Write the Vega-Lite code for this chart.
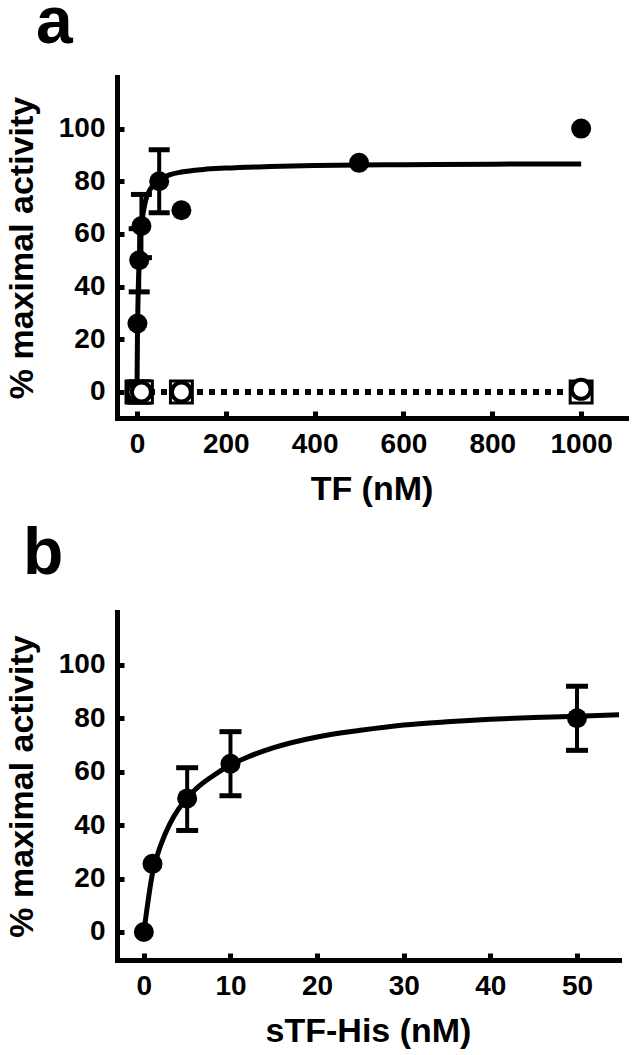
{
  "$schema": "https://vega.github.io/schema/vega-lite/v6.json",
  "background": "white",
  "padding": {"left": 5, "top": -10, "right": 5, "bottom": 5},
  "bounds": "flush",
  "spacing": 194,
  "config": {
    "view": {"stroke": null},
    "font": "Liberation Sans",
    "axis": {
      "grid": false, "domainColor": "black", "domainWidth": 5, "domainCap": "square",
      "tickColor": "black", "tickWidth": 5, "tickSize": -7,
      "labelFont": "Liberation Sans", "labelFontSize": 28, "labelFontWeight": "bold", "labelColor": "black",
      "labelPadding": 19, "labelFlush": false, "labelOverlap": false, "format": "d",
      "titleFont": "Liberation Sans", "titleFontSize": 34, "titleFontWeight": "bold", "titleColor": "black"
    },
    "title": {"fontSize": 66, "fontWeight": "bold", "anchor": "start", "color": "black", "font": "Liberation Sans"}
  },
  "datasets": {
    "curveA": [
      {"x": 0, "y": 0}, {"x": 1, "y": 20}, {"x": 2, "y": 32}, {"x": 3, "y": 40}, {"x": 5, "y": 50},
      {"x": 7, "y": 56}, {"x": 10, "y": 63}, {"x": 15, "y": 69}, {"x": 20, "y": 73}, {"x": 30, "y": 77},
      {"x": 50, "y": 80.5}, {"x": 75, "y": 82.5}, {"x": 100, "y": 83.5}, {"x": 150, "y": 84.5},
      {"x": 200, "y": 85}, {"x": 300, "y": 85.6}, {"x": 400, "y": 86}, {"x": 600, "y": 86.3},
      {"x": 800, "y": 86.5}, {"x": 1000, "y": 86.6}
    ],
    "filledA": [
      {"x": 0, "y": 0}, {"x": 1, "y": 26}, {"x": 5, "y": 50}, {"x": 10, "y": 63}, {"x": 50, "y": 80},
      {"x": 100, "y": 69}, {"x": 500, "y": 87}, {"x": 1000, "y": 100}
    ],
    "errA": [
      {"x": 5, "lo": 38, "hi": 62}, {"x": 10, "lo": 51, "hi": 75}, {"x": 50, "lo": 68, "hi": 92}
    ],
    "squaresA": [
      {"x": 0, "y": 0}, {"x": 5, "y": 0}, {"x": 10, "y": 0}, {"x": 100, "y": 0}, {"x": 1000, "y": 0}
    ],
    "openA": [
      {"x": 0, "y": 0}, {"x": 10, "y": 0}, {"x": 100, "y": 0}, {"x": 1000, "y": 1}
    ],
    "curveB": [
      {"x": 0, "y": 0}, {"x": 1, "y": 22}, {"x": 2, "y": 33}, {"x": 3, "y": 40.5}, {"x": 4, "y": 46},
      {"x": 5, "y": 50}, {"x": 6, "y": 53.5}, {"x": 8, "y": 58.5}, {"x": 10, "y": 62.5}, {"x": 12, "y": 65.5},
      {"x": 15, "y": 69}, {"x": 20, "y": 73}, {"x": 25, "y": 75.5}, {"x": 30, "y": 77.5}, {"x": 35, "y": 78.7},
      {"x": 40, "y": 79.6}, {"x": 45, "y": 80.3}, {"x": 50, "y": 80.8}, {"x": 55, "y": 81.3}
    ],
    "filledB": [
      {"x": 0, "y": 0}, {"x": 1, "y": 25.5}, {"x": 5, "y": 50}, {"x": 10, "y": 63}, {"x": 50, "y": 80}
    ],
    "errB": [
      {"x": 5, "lo": 38, "hi": 61.5}, {"x": 10, "lo": 51, "hi": 75}, {"x": 50, "lo": 68, "hi": 92}
    ]
  },
  "vconcat": [
    {
      "width": 509,
      "height": 341,
      "title": {"text": "a", "frame": "group", "dx": -81, "baseline": "alphabetic", "offset": -32},
      "encoding": {
        "x": {"field": "x", "type": "quantitative",
              "scale": {"domain": [-45, 1101], "nice": false, "zero": false},
              "axis": {"values": [0, 200, 400, 600, 800, 1000], "title": "TF (nM)", "titlePadding": 14}},
        "y": {"field": "y", "type": "quantitative",
              "scale": {"domain": [-9.9, 119.6], "nice": false, "zero": false},
              "axis": {"values": [0, 20, 40, 60, 80, 100], "title": "% maximal activity", "titlePadding": 19}}
      },
      "layer": [
        {"data": {"name": "curveA"}, "mark": {"type": "line", "color": "black", "strokeWidth": 5, "interpolate": "monotone"}},
        {"data": {"name": "squaresA"}, "mark": {"type": "line", "color": "black", "strokeWidth": 6, "strokeDash": [6, 6], "strokeCap": "butt"}},
        {"data": {"name": "errA"}, "mark": {"type": "rule", "color": "black", "strokeWidth": 4, "opacity": 1},
         "encoding": {"y": {"field": "lo", "type": "quantitative"}, "y2": {"field": "hi"}}},
        {"data": {"name": "errA"}, "mark": {"type": "tick", "orient": "horizontal", "color": "black", "size": 21, "thickness": 5, "opacity": 1},
         "encoding": {"y": {"field": "lo", "type": "quantitative"}}},
        {"data": {"name": "errA"}, "mark": {"type": "tick", "orient": "horizontal", "color": "black", "size": 21, "thickness": 5, "opacity": 1},
         "encoding": {"y": {"field": "hi", "type": "quantitative"}}},
        {"data": {"name": "filledA"}, "mark": {"type": "point", "shape": "circle", "filled": true, "color": "black", "size": 400, "opacity": 1}},
        {"data": {"name": "squaresA"}, "mark": {"type": "point", "shape": "square", "filled": true, "fill": "white", "stroke": "black", "strokeWidth": 3, "size": 480, "opacity": 1}},
        {"data": {"name": "openA"}, "mark": {"type": "point", "shape": "circle", "filled": true, "fill": "white", "stroke": "black", "strokeWidth": 4, "size": 360, "opacity": 1}}
      ]
    },
    {
      "width": 502,
      "height": 348,
      "title": {"text": "b", "frame": "group", "dx": -94, "baseline": "alphabetic", "offset": -28},
      "encoding": {
        "x": {"field": "x", "type": "quantitative",
              "scale": {"domain": [-3.1, 54.85], "nice": false, "zero": false},
              "axis": {"values": [0, 10, 20, 30, 40, 50], "title": "sTF-His (nM)", "titlePadding": 14}},
        "y": {"field": "y", "type": "quantitative",
              "scale": {"domain": [-10.5, 119.8], "nice": false, "zero": false},
              "axis": {"values": [0, 20, 40, 60, 80, 100], "title": "% maximal activity", "titlePadding": 19}}
      },
      "layer": [
        {"data": {"name": "curveB"}, "mark": {"type": "line", "color": "black", "strokeWidth": 5, "interpolate": "monotone", "clip": true}},
        {"data": {"name": "errB"}, "mark": {"type": "rule", "color": "black", "strokeWidth": 4, "opacity": 1},
         "encoding": {"y": {"field": "lo", "type": "quantitative"}, "y2": {"field": "hi"}}},
        {"data": {"name": "errB"}, "mark": {"type": "tick", "orient": "horizontal", "color": "black", "size": 22, "thickness": 5, "opacity": 1},
         "encoding": {"y": {"field": "lo", "type": "quantitative"}}},
        {"data": {"name": "errB"}, "mark": {"type": "tick", "orient": "horizontal", "color": "black", "size": 22, "thickness": 5, "opacity": 1},
         "encoding": {"y": {"field": "hi", "type": "quantitative"}}},
        {"data": {"name": "filledB"}, "mark": {"type": "point", "shape": "circle", "filled": true, "color": "black", "size": 400, "opacity": 1}}
      ]
    }
  ]
}
